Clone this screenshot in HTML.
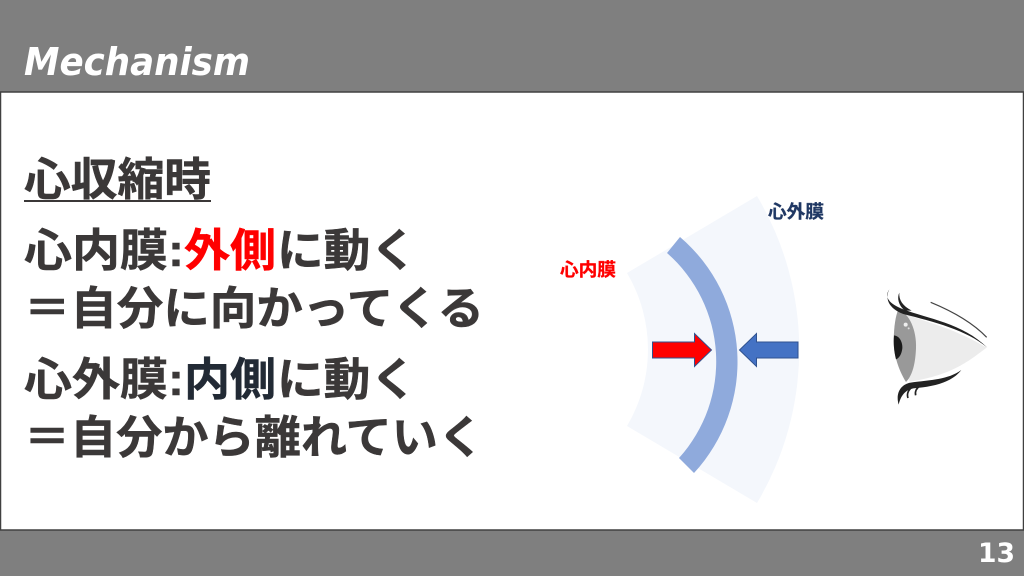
<!DOCTYPE html>
<html><head><meta charset="utf-8"><style>
html,body{margin:0;padding:0;background:#fff}
svg{display:block}
.j{font-family:"Liberation Sans","Noto Sans CJK JP",sans-serif;font-weight:700;font-size:45px;fill:#3b3838;stroke:#3b3838;stroke-width:.5}
.r{fill:#ff0000;stroke:#ff0000}
.b{fill:#222a35;stroke:#222a35}
</style></head><body>
<svg width="1024" height="576" viewBox="0 0 1024 576" xmlns="http://www.w3.org/2000/svg">
<rect width="1024" height="576" fill="#fff"/>
<rect width="1024" height="92" fill="#7f7f7f"/>
<rect y="530" width="1024" height="46" fill="#7f7f7f"/>
<rect x="0.500" y="92" width="1023" height="438" fill="#fff" stroke="#404040" stroke-width="1.500"/>
<text x="24" y="75" font-family="DejaVu Sans" font-weight="700" font-style="italic" font-size="38" fill="#fff" textLength="226" lengthAdjust="spacingAndGlyphs">Mechanism</text>
<text x="978" y="562" font-family="DejaVu Sans" font-weight="700" font-size="27" fill="#fff" textLength="37" lengthAdjust="spacingAndGlyphs">13</text>

<text class="j" x="24" y="195" textLength="187" lengthAdjust="spacingAndGlyphs">心収縮時</text>
<rect x="24" y="200" width="187" height="2" fill="#3b3838"/>
<text class="j" x="24" y="266" textLength="160" lengthAdjust="spacingAndGlyphs">心内膜:</text>
<text class="j r" x="184" y="266" textLength="92" lengthAdjust="spacingAndGlyphs">外側</text>
<text class="j" x="277" y="266" textLength="140" lengthAdjust="spacingAndGlyphs">に動く</text>
<text class="j" x="24" y="324" textLength="460" lengthAdjust="spacingAndGlyphs">＝自分に向かってくる</text>
<text class="j" x="24" y="395" textLength="160" lengthAdjust="spacingAndGlyphs">心外膜:</text>
<text class="j b" x="184" y="395" textLength="92" lengthAdjust="spacingAndGlyphs">内側</text>
<text class="j" x="277" y="395" textLength="140" lengthAdjust="spacingAndGlyphs">に動く</text>
<text class="j" x="24" y="453" textLength="460" lengthAdjust="spacingAndGlyphs">＝自分から離れていく</text>

<path d="M757 196 A300 300 0 0 1 757 503 L627 426 A150 150 0 0 0 627 273 Z" fill="#f4f7fc"/>
<path d="M680 237 A164 164 0 0 1 694 473 L679 458 A144 144 0 0 0 667 253 Z" fill="#8faadc"/>
<path d="M652.500 342 H694.500 V333.500 L711.500 350 L694.500 366.500 V358 H652.500 Z" fill="#ff0000" stroke="#2f528f" stroke-width="1"/>
<path d="M798 342 H756.500 V333.500 L739.500 350 L756.500 366.500 V358 H798 Z" fill="#4472c4" stroke="#2f528f" stroke-width="1"/>
<text x="560" y="276" font-family="'Liberation Sans','Noto Sans CJK JP',sans-serif" font-weight="700" font-size="18" fill="#ff0000" stroke="#ff0000" stroke-width=".3" textLength="56" lengthAdjust="spacingAndGlyphs">心内膜</text>
<text x="768" y="218" font-family="'Liberation Sans','Noto Sans CJK JP',sans-serif" font-weight="700" font-size="18" fill="#203864" stroke="#203864" stroke-width=".3" textLength="56" lengthAdjust="spacingAndGlyphs">心外膜</text>

<g transform="translate(870 280) scale(.3333)">
<path d="M85 88 C125 120 230 130 350 203 C300 240 250 285 120 305 C95 260 70 180 85 88 Z" fill="#ececec"/>
<path d="M85 88 C118 100 140 150 138 205 C136 250 128 285 108 306 C85 270 70 220 71 180 C72 140 76 110 85 88 Z" fill="#999"/>
<path d="M72 166 C90 168 98 188 97 205 C95 222 88 234 78 238 C72 215 70 190 72 166 Z" fill="#1a1a1a"/>
<circle cx="107" cy="134" r="6" fill="#eee"/><circle cx="116" cy="145" r="3" fill="#ddd"/>
<path d="M58 28 C44 48 50 68 100 88 C170 115 280 130 352 203 C290 150 190 125 100 102 C60 88 42 58 58 28 Z" fill="#222"/>
<path d="M88 38 C86 60 98 78 125 92 L104 92 C86 76 80 55 88 38 Z" fill="#222"/>
<path d="M182 67 C250 95 310 130 350 172" fill="none" stroke="#444" stroke-width="3.500"/>
<path d="M274 270 C230 302 170 300 122 308 C92 313 76 340 86 374 C92 348 105 330 130 325 C190 320 245 308 274 270 Z" fill="#222"/>
<path d="M128 320 C114 330 110 342 114 354 M152 316 C140 324 134 334 137 346" fill="none" stroke="#222" stroke-width="5"/>
</g>
</svg>
</body></html>
